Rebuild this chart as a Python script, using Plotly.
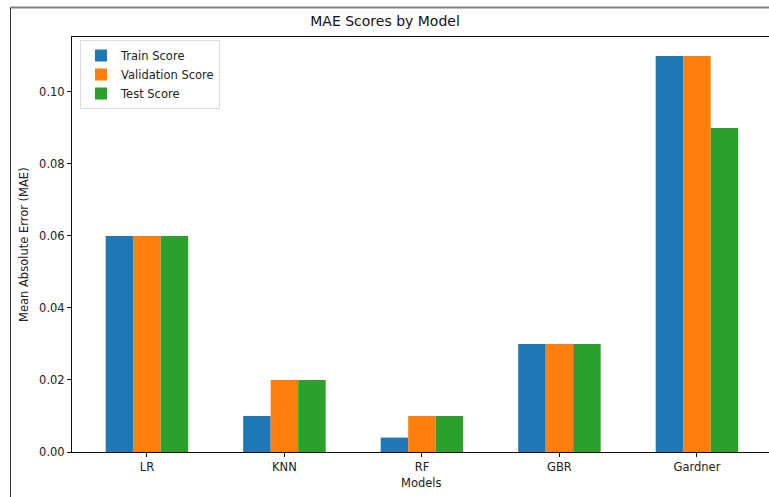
import plotly.graph_objects as go

# Model scores (mean absolute error)
models = ["LR", "KNN", "RF", "GBR", "Gardner"]
train_scores = [0.06, 0.01, 0.004, 0.03, 0.11]
validation_scores = [0.06, 0.02, 0.01, 0.03, 0.11]
test_scores = [0.06, 0.02, 0.01, 0.03, 0.09]
y_ticks = [0.00, 0.02, 0.04, 0.06, 0.08, 0.10]

series = [
    ("Train Score", train_scores, "#1f77b4"),
    ("Validation Score", validation_scores, "#ff7f0e"),
    ("Test Score", test_scores, "#2ca02c"),
]

W, H = 769, 497
L, R, T, B = 72, 0, 37, 45
plot_w = W - L - R
plot_h = H - T - B

idx = list(range(len(models)))
fig = go.Figure()
for name, vals, color in series:
    fig.add_trace(go.Bar(
        x=idx, y=vals, name=name,
        marker=dict(color=color, line=dict(width=0)),
    ))

font = "DejaVu Sans"
txt = "#222222"

def px_x(p):
    return (p - L) / plot_w

def px_y(p):
    return (H - B - p) / plot_h

fig.update_layout(
    width=W, height=H,
    margin=dict(l=L, r=R, t=T, b=B, pad=0),
    paper_bgcolor="white", plot_bgcolor="white",
    barmode="group", bargap=0.4, bargroupgap=0,
    font=dict(family=font, size=11.5, color=txt),
    title=dict(text="MAE Scores by Model", x=px_x(421), xanchor="center",
               y=1 - 21 / H, yanchor="middle", yref="container",
               font=dict(size=14, color="#111")),
    xaxis=dict(
        range=[-0.545, -0.545 + plot_w / 137.5],
        tickmode="array", tickvals=idx, ticktext=models,
        showline=True, linecolor="#111", linewidth=1, mirror=True,
        ticks="outside", ticklen=4, tickcolor="#111",
        showgrid=False, zeroline=False,
    ),
    yaxis=dict(
        range=[0, 0.11525],
        tickmode="array", tickvals=y_ticks,
        ticktext=[f"{v:.2f}" for v in y_ticks],
        showline=True, linecolor="#111", linewidth=1,
        ticks="outside", ticklen=4, tickcolor="#111",
        showgrid=False, zeroline=False,
    ),
    legend=dict(
        x=px_x(80), y=px_y(40), xanchor="left", yanchor="top",
        bgcolor="white", bordercolor="#dddddd", borderwidth=1,
        font=dict(size=11.5, color=txt), tracegroupgap=0,
        itemsizing="constant",
    ),
    showlegend=True,
)

fig.add_annotation(text="Models", xref="paper", yref="paper",
                   x=px_x(421), y=px_y(483), xanchor="center", yanchor="middle",
                   showarrow=False, font=dict(size=11.5, color=txt))
fig.add_annotation(text="Mean Absolute Error (MAE)", xref="paper", yref="paper",
                   x=px_x(24), y=px_y(245), xanchor="center", yanchor="middle",
                   textangle=-90, showarrow=False, font=dict(size=11.5, color=txt))

# Outer figure frame (top and left edges)
fig.add_shape(type="line", xref="paper", yref="paper",
              x0=px_x(10.5), x1=px_x(W + 5), y0=px_y(7.5), y1=px_y(7.5),
              line=dict(color="#808080", width=2))
fig.add_shape(type="line", xref="paper", yref="paper",
              x0=px_x(10.5), x1=px_x(10.5), y0=px_y(7.5), y1=px_y(H + 5),
              line=dict(color="#333333", width=1))

fig.write_html("out.html")
